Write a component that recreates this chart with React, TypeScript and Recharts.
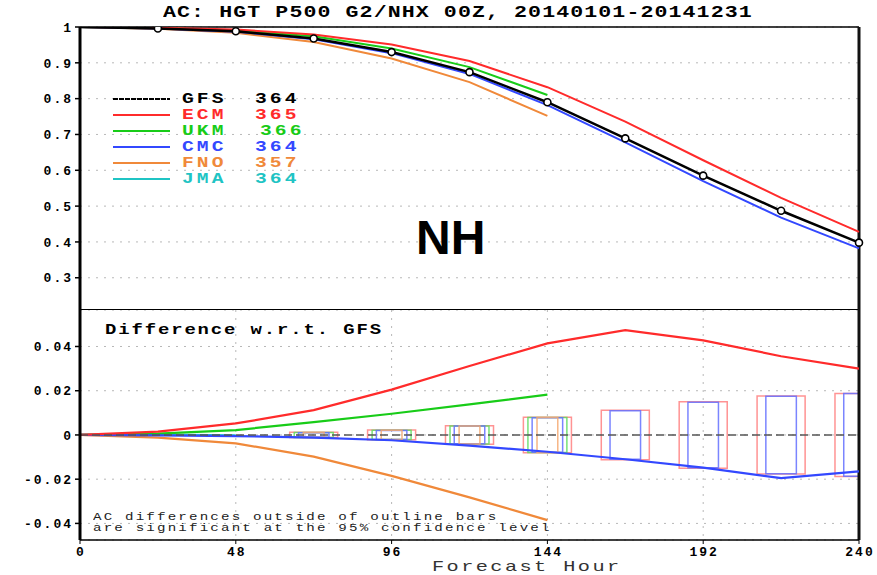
import React from 'react';
import { LineChart, Line, XAxis, YAxis, CartesianGrid, ReferenceLine, ReferenceArea } from 'recharts';

// forecast lead times (h) and axis ticks
const hours = [0, 24, 48, 72, 96, 120, 144, 168, 192, 216, 240];
const hourTicks = [0, 48, 96, 144, 192, 240];
const acTicks = [0.3, 0.4, 0.5, 0.6, 0.7, 0.8, 0.9, 1];
const diffTicks = [-0.04, -0.02, 0, 0.02, 0.04];

// anomaly correlation, 500 hPa height, NH extratropics
const gfsAC = [1.0, 0.996, 0.988, 0.968, 0.930, 0.874, 0.790, 0.689, 0.585, 0.487, 0.398];
const ecmAC = [1.0, 0.998, 0.993, 0.979, 0.951, 0.905, 0.832, 0.736, 0.628, 0.523, 0.428];
const ukmAC = [1.0, 0.997, 0.990, 0.974, 0.940, 0.888, 0.810];
const cmcAC = [1.0, 0.996, 0.987, 0.966, 0.927, 0.869, 0.782, 0.678, 0.570, 0.468, 0.382];
const fnoAC = [1.0, 0.995, 0.984, 0.958, 0.912, 0.846, 0.752];
const jmaAC = [1.0, 0.997, 0.988];

// difference from GFS
const gfsDiff = [0, 0, 0, 0, 0, 0, 0, 0, 0, 0, 0];
const ecmDiff = [0, 0.0015, 0.0052, 0.0112, 0.0205, 0.0312, 0.0414, 0.0474, 0.0428, 0.0356, 0.0300];
const ukmDiff = [0, 0.0006, 0.0022, 0.0058, 0.0096, 0.0138, 0.0182];
const cmcDiff = [0, -0.0002, -0.0005, -0.0012, -0.0024, -0.0048, -0.0076, -0.0110, -0.0148, -0.0195, -0.0165];
const fnoDiff = [0, -0.0012, -0.0038, -0.0098, -0.0185, -0.0282, -0.0385];
const jmaDiff = [0, 0.0002, -0.0002];

// 95% confidence half-widths (outline bars)
const ciHours = [72, 96, 120, 144, 168, 192, 216, 240];
const ecmCI = [0.0012, 0.0022, 0.0042, 0.0080, 0.0112, 0.0150, 0.0176, 0.0188];
const ukmCI = [0.0011, 0.0021, 0.0041, 0.0079];
const cmcCI = [0.0010, 0.0020, 0.0040, 0.0078, 0.0110, 0.0148, 0.0175, 0.0187];
const fnoCI = [0.0011, 0.0021, 0.0041, 0.0079];

// verification counts
const gfsCount = '364';
const ecmCount = '365';
const ukmCount = '366';
const cmcCount = '364';
const fnoCount = '357';
const jmaCount = '364';

const mono = '"Liberation Mono", "DejaVu Sans Mono", monospace';

type Model = {
  key: string;
  name: string;
  count: string;
  color: string;
  boxColor: string;
  boxHalf: number;
  ac: number[];
  diff: number[];
  ci: number[];
};

const models: Model[] = [
  { key: 'gfs', name: 'GFS', count: gfsCount, color: '#000000', boxColor: '#000', boxHalf: 0, ac: gfsAC, diff: gfsDiff, ci: [] },
  { key: 'ecm', name: 'ECM', count: ecmCount, color: '#ff2b2b', boxColor: '#ff8080', boxHalf: 7.4, ac: ecmAC, diff: ecmDiff, ci: ecmCI },
  { key: 'ukm', name: 'UKM', count: ukmCount, color: '#18cc18', boxColor: '#60dc60', boxHalf: 6.0, ac: ukmAC, diff: ukmDiff, ci: ukmCI },
  { key: 'cmc', name: 'CMC', count: cmcCount, color: '#3348ff', boxColor: '#6470ff', boxHalf: 4.7, ac: cmcAC, diff: cmcDiff, ci: cmcCI },
  { key: 'fno', name: 'FNO', count: fnoCount, color: '#f0893a', boxColor: '#f4a870', boxHalf: 3.2, ac: fnoAC, diff: fnoDiff, ci: fnoCI },
  { key: 'jma', name: 'JMA', count: jmaCount, color: '#1fc4c4', boxColor: '#1fc4c4', boxHalf: 0, ac: jmaAC, diff: jmaDiff, ci: [] },
];

const acRows = hours.map((h, i) => {
  const row: Record<string, number | undefined> = { hour: h };
  models.forEach((m) => { row[m.key] = m.ac[i]; });
  return row;
});

const diffRows = hours.map((h, i) => {
  const row: Record<string, number | undefined> = { hour: h };
  models.forEach((m) => { row[m.key] = m.diff[i]; });
  return row;
});

// draw order: GFS last so it sits on top
const drawOrder = ['jma', 'fno', 'ukm', 'cmc', 'ecm', 'gfs'];
const byKey = (k: string) => models.find((m) => m.key === k) as Model;

const YTick = ({ x, y, payload, fmt }: any) => (
  <text x={x + 2} y={y} dy="0.36em" textAnchor="end" fontFamily={mono} fontWeight="bold"
    fontSize={13} letterSpacing={2} fill="#000">
    {fmt(payload.value)}
  </text>
);

const XTick = ({ x, y, payload }: any) => (
  <text x={x + 1} y={y} dy="0.75em" textAnchor="middle" fontFamily={mono} fontWeight="bold"
    fontSize={13} letterSpacing={2} fill="#000">
    {payload.value}
  </text>
);

const fmtAC = (v: number) => (v === 1 ? '1' : v.toFixed(1));
const fmtDiff = (v: number) => (v === 0 ? '0' : v.toFixed(2));

const GfsDot = (props: any) => {
  const { cx, cy, payload } = props;
  if (payload.hour === 0) return <g key={`d${payload.hour}`} />;
  return <circle key={`d${payload.hour}`} cx={cx} cy={cy} r={3.5} fill="#fff" stroke="#000" strokeWidth={1.6} />;
};

// GrADS-style text: monospace stretched horizontally
const label = (text: string, left: number, cy: number, size: number, spacing: number, stretch: number,
  extra: React.CSSProperties = {}) => (
  <div style={{
    position: 'absolute', left, top: cy - size * 0.47, fontFamily: mono, fontSize: size,
    lineHeight: 1, letterSpacing: spacing, whiteSpace: 'pre', transform: `scaleX(${stretch})`,
    transformOrigin: 'left center', ...extra,
  }}>{text}</div>
);

const gridProps = { stroke: '#b8b8b8', strokeDasharray: '2 6' };

export default function App() {
  return (
    <div style={{ position: 'absolute', left: 0, top: 0, width: 877, height: 575, background: '#fff', overflow: 'hidden' }}>
      {/* upper panel: anomaly correlation */}
      <div style={{ position: 'absolute', left: 0, top: 0 }}>
        <LineChart width={877} height={310} data={acRows} margin={{ top: 27, right: 18, bottom: 0, left: 20 }}>
          <CartesianGrid {...gridProps} />
          <XAxis dataKey="hour" type="number" domain={[0, 240]} ticks={hourTicks} tick={false}
            axisLine={false} tickLine={false} height={0} />
          <YAxis type="number" domain={[0.21, 1]} ticks={acTicks} width={60} tickSize={5} tickMargin={4}
            axisLine={{ stroke: '#000', strokeWidth: 3 }} tickLine={{ stroke: '#000', strokeWidth: 1.5 }}
            tick={<YTick fmt={fmtAC} />} interval={0} allowDataOverflow />
          <ReferenceLine y={1} stroke="#000" strokeWidth={1.5} />
          <ReferenceLine y={0.21} stroke="#000" strokeWidth={2} />
          <ReferenceLine x={240} stroke="#111" strokeWidth={3} />
          {drawOrder.map((k) => {
            const m = byKey(k);
            return (
              <Line key={k} dataKey={k} stroke={m.color} strokeWidth={k === 'gfs' ? 2.5 : 2}
                dot={k === 'gfs' ? <GfsDot /> : false} isAnimationActive={false} connectNulls={false} />
            );
          })}
        </LineChart>
      </div>

      {/* lower panel: difference w.r.t. GFS */}
      <div style={{ position: 'absolute', left: 0, top: 310 }}>
        <LineChart width={877} height={265} data={diffRows} margin={{ top: 0, right: 18, bottom: 5, left: 20 }}>
          <CartesianGrid {...gridProps} />
          <XAxis dataKey="hour" type="number" domain={[0, 240]} ticks={hourTicks} height={30} tickSize={4}
            tickMargin={2} axisLine={{ stroke: '#000', strokeWidth: 1.5 }} tickLine={{ stroke: '#000' }}
            tick={<XTick />} interval={0} />
          <YAxis type="number" domain={[-0.0475, 0.0565]} ticks={diffTicks} width={60} tickSize={5} tickMargin={4}
            axisLine={{ stroke: '#000', strokeWidth: 3 }} tickLine={{ stroke: '#000', strokeWidth: 1.5 }}
            tick={<YTick fmt={fmtDiff} />} interval={0} allowDataOverflow />
          <ReferenceLine x={240} stroke="#111" strokeWidth={3} />
          {models.flatMap((m) =>
            m.ci.map((half, j) => (
              <ReferenceArea key={`${m.key}-${ciHours[j]}`} x1={ciHours[j] - m.boxHalf} x2={ciHours[j] + m.boxHalf}
                y1={-half} y2={half} fill="none" fillOpacity={0} stroke={m.boxColor} strokeWidth={1.5}
                strokeOpacity={0.85} ifOverflow="hidden" />
            ))
          )}
          {drawOrder.map((k) => {
            const m = byKey(k);
            return (
              <Line key={k} dataKey={k} stroke={k === 'gfs' ? '#555' : m.color}
                strokeWidth={k === 'gfs' ? 1.5 : 2.2} strokeDasharray={k === 'gfs' ? '8 4' : undefined}
                dot={false} isAnimationActive={false} connectNulls={false} />
            );
          })}
        </LineChart>
      </div>

      {label('AC: HGT P500 G2/NHX 00Z, 20140101-20141231', 163, 13, 16, 0.8, 1.35, { fontWeight: 'bold' })}

      {/* legend */}
      {models.map((m, i) => (
        <div key={m.key} style={{ position: 'absolute', left: 113, top: 99 + i * 16 - 8, height: 16, width: 220 }}>
          <svg width={58} height={16} style={{ position: 'absolute', left: 0, top: 0 }}>
            <line x1={0} x2={57} y1={8} y2={8} stroke={m.color} strokeWidth={2}
              strokeDasharray={m.key === 'gfs' ? '5 1' : undefined} />
          </svg>
          {label(m.name, 69, 8, 14, 2.2, 1.4, { color: m.color, fontWeight: 'bold' })}
          {label(m.count, m.key === 'ukm' ? 147 : 142, 8, 14, 2.2, 1.4, { color: m.color, fontWeight: 'bold' })}
        </div>
      ))}

      <div style={{
        position: 'absolute', left: 416, top: 238 - 48 * 0.49, fontFamily: '"Liberation Sans", Arial, sans-serif',
        fontWeight: 'bold', fontSize: 48, lineHeight: 1, color: '#000',
      }}>NH</div>

      {label('Difference w.r.t. GFS', 105, 330, 14, 1.4, 1.35, { fontWeight: 'bold' })}
      {label('AC differences outside of outline bars', 93, 517, 10.5, 1.6, 1.35, { color: '#222' })}
      {label('are significant at the 95% confidence level', 93, 528, 10.5, 1.6, 1.35, { color: '#222' })}
      {label('Forecast Hour', 432, 567, 15, 1.8, 1.35, { color: '#333' })}
    </div>
  );
}
